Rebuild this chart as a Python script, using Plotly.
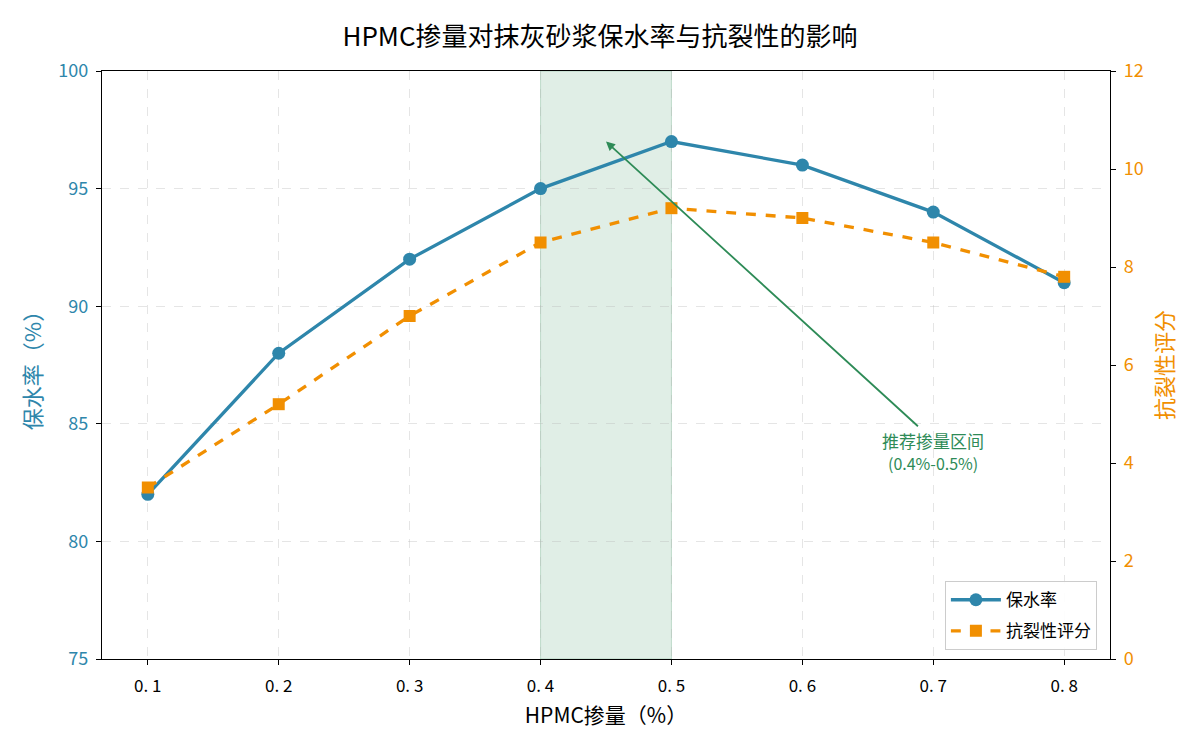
import plotly.graph_objects as go

dosage = [0.1, 0.2, 0.3, 0.4, 0.5, 0.6, 0.7, 0.8]
water_retention = [82, 88, 92, 95, 97, 96, 94, 91]
crack_score = [3.5, 5.2, 7.0, 8.5, 9.2, 9.0, 8.5, 7.8]
x_ticks = [0.1, 0.2, 0.3, 0.4, 0.5, 0.6, 0.7, 0.8]
x_tick_text = ["0. 1", "0. 2", "0. 3", "0. 4", "0. 5", "0. 6", "0. 7", "0. 8"]

BLUE = "#2E86AB"
ORANGE = "#F18F01"
GREEN = "#2E8B57"
FONT = "Noto Sans CJK SC"

fig = go.Figure()
fig.add_trace(go.Scatter(
    x=dosage, y=water_retention, name="保水率", mode="lines+markers",
    line=dict(color=BLUE, width=3.3), marker=dict(symbol="circle", size=13, color=BLUE),
    legendgroup="a", yaxis="y"))
fig.add_trace(go.Scatter(
    x=dosage, y=crack_score, name="抗裂性评分", mode="lines+markers",
    line=dict(color=ORANGE, width=3.3, dash="dash"),
    marker=dict(symbol="square", size=12, color=ORANGE),
    legendgroup="b", yaxis="y2"))

fig.add_shape(type="rect", xref="x", yref="paper", x0=0.4, x1=0.5, y0=0, y1=1,
              fillcolor="rgba(46,139,87,0.15)", line=dict(color="rgba(46,139,87,0.25)", width=1),
              layer="below")

fig.add_annotation(x=0.45, y=97, ax=0.7, ay=84.3, xref="x", yref="y", axref="x", ayref="y",
                   text="推荐掺量区间", showarrow=True,
                   arrowhead=2, arrowsize=1, arrowwidth=1.8, arrowcolor=GREEN,
                   font=dict(family=FONT, size=17, color=GREEN), align="center")
fig.add_annotation(x=0.7, y=83.35, xref="x", yref="y",
                   text="(0.4%-0.5%)", showarrow=False,
                   font=dict(family=FONT, size=16, color=GREEN), align="center")

fig.update_layout(
    width=1200, height=750,
    margin=dict(l=102, r=90, t=71, b=91),
    paper_bgcolor="white", plot_bgcolor="white",
    font=dict(family=FONT, size=16, color="black"),
    title=dict(text="HPMC掺量对抹灰砂浆保水率与抗裂性的影响", x=0.5, xanchor="center",
               y=1 - 37 / 750, yanchor="middle", font=dict(family=FONT, size=26, color="black")),
    xaxis=dict(range=[0.065, 0.835], tickvals=x_ticks, ticktext=x_tick_text,
               showgrid=True, gridcolor="rgba(180,180,180,0.35)", griddash="dash", gridwidth=1,
               showline=True, linecolor="black", linewidth=1.2, mirror=True,
               ticks="outside", ticklen=5, tickcolor="black", zeroline=False,
               ticklabelstandoff=6,
               tickfont=dict(size=17, color="black"),
               title=dict(text="HPMC掺量（%）", font=dict(size=21, color="black"), standoff=12)),
    yaxis=dict(range=[75, 100], dtick=5,
               showgrid=True, gridcolor="rgba(180,180,180,0.35)", griddash="dash", gridwidth=1,
               showline=True, linecolor="black", linewidth=1.2, mirror=True,
               ticks="outside", ticklen=5, tickcolor="black", zeroline=False,
               ticklabelstandoff=4,
               tickfont=dict(size=18, color=BLUE),
               title=dict(text="保水率（%）", font=dict(size=22, color=BLUE), standoff=10)),
    yaxis2=dict(range=[0, 12], dtick=2, overlaying="y", side="right",
                showgrid=False, showline=True, linecolor="black", linewidth=1.2,
                ticks="outside", ticklen=5, tickcolor="black", zeroline=False,
                ticklabelstandoff=4,
                tickfont=dict(size=18, color=ORANGE),
                title=dict(text="抗裂性评分", font=dict(size=22, color=ORANGE), standoff=14)),
    legend=dict(x=0.987, y=0.015, xanchor="right", yanchor="bottom",
                bgcolor="rgba(255,255,255,0.9)", bordercolor="#cccccc", borderwidth=1,
                font=dict(family=FONT, size=17, color="black"), tracegroupgap=6,
                itemwidth=50),
    showlegend=True,
)

fig.write_html("out.html")
